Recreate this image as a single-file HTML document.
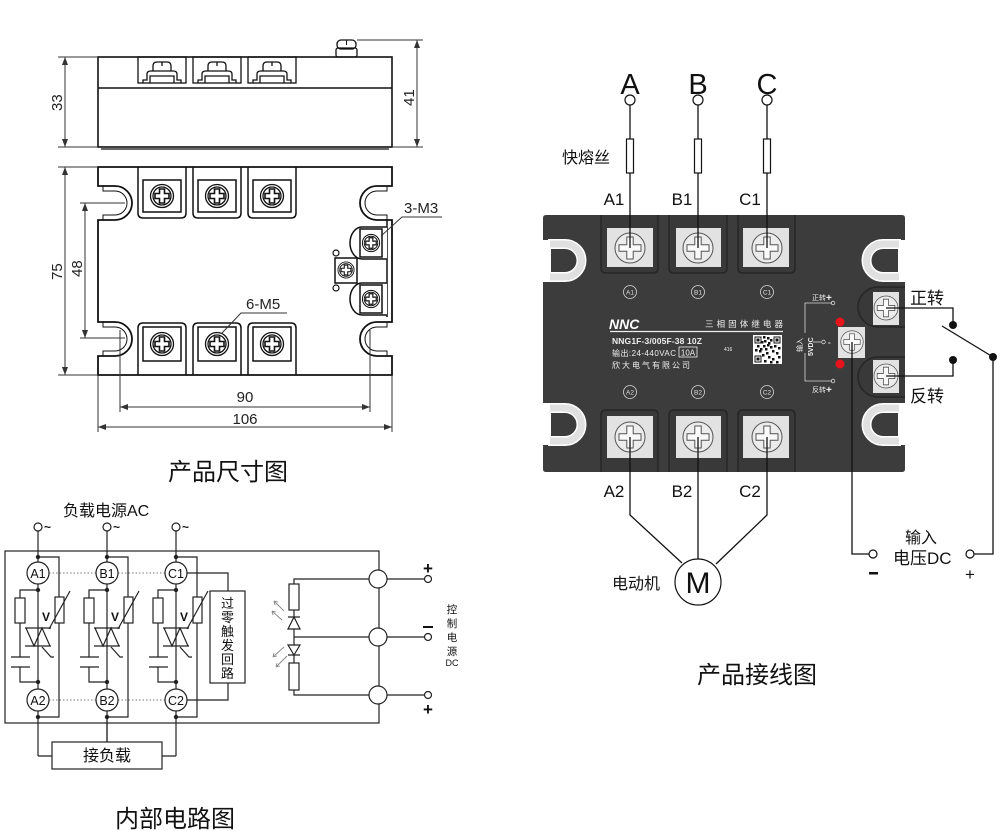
<!DOCTYPE html>
<html><head><meta charset="utf-8"><style>
html,body{margin:0;padding:0;background:#fff;}
svg{display:block;}
text{font-family:"Liberation Sans","Noto Sans CJK SC",sans-serif;}
</style></head><body>
<svg width="1000" height="831" viewBox="0 0 1000 831" xmlns="http://www.w3.org/2000/svg">
<defs>
<marker id="ar" viewBox="0 0 8 6" refX="8" refY="3" markerWidth="8" markerHeight="6" markerUnits="userSpaceOnUse" orient="auto-start-reverse"><path d="M0,0 L8,3 L0,6 z" fill="#333"/></marker>
<g id="ls">
<circle r="11.5" fill="#fff" stroke="#111" stroke-width="1.3"/>
<circle r="9" fill="#fff" stroke="#111" stroke-width="1.3"/>
<path d="M-2.5,-7 H2.5 V-2.5 H7 V2.5 H2.5 V7 H-2.5 V2.5 H-7 V-2.5 H-2.5 Z" fill="#fff" stroke="#111" stroke-width="1.6"/>
</g>
<g id="ps">
<circle r="15" fill="#ececec" stroke="#555" stroke-width="1"/>
<path d="M-3.2,-11 H3.2 V-3.2 H11 V3.2 H3.2 V11 H-3.2 V3.2 H-11 V-3.2 H-3.2 Z" fill="#fafafa" stroke="#555" stroke-width="1"/>
</g>
<g id="clamp" fill="none" stroke="#111" stroke-width="1.3">
<path d="M-19,25 V22 H-15 V16 Q-15,13 -11,13 H11 Q15,13 15,16 V22 H19 V25"/>
<path d="M-12,25 V18 H12 V25"/>
<path d="M-9,13 V8 Q-9,4 -5,4 H5 Q9,4 9,8 V13"/>
<path d="M0,4 V8"/>
</g>
</defs>

<!-- ================= DIMENSION DRAWING ================= -->
<g fill="none" stroke="#111" stroke-width="1.6">
  <rect x="98" y="57" width="294" height="90" fill="#fff"/>
  <line x1="98" y1="88" x2="392" y2="88"/>
  <line x1="101" y1="149" x2="389" y2="149" stroke-width="1.2"/>
  <rect x="138" y="57" width="48" height="26" stroke-width="1.3"/>
  <rect x="193" y="57" width="48" height="26" stroke-width="1.3"/>
  <rect x="248" y="57" width="48" height="26" stroke-width="1.3"/>
  <rect x="337" y="40" width="19" height="9" rx="4" stroke-width="1.3"/>
  <rect x="336" y="48" width="21" height="9" rx="2" stroke-width="1.3"/>
  <line x1="346.5" y1="40" x2="346.5" y2="45" stroke-width="1"/>
</g>
<use href="#clamp" transform="translate(162,58)"/>
<use href="#clamp" transform="translate(217,58)"/>
<use href="#clamp" transform="translate(272,58)"/>

<!-- top view -->
<path d="M98,167 H392 V186 H377 A17,17 0 0 0 377,220 H392 V322 H377 A17,17 0 0 0 377,356 H392 V375 H98 V356 H115 A17,17 0 0 0 115,322 H98 V220 H115 A17,17 0 0 0 115,186 H98 Z" fill="#fff" stroke="#111" stroke-width="1.8"/>
<g fill="none" stroke="#111" stroke-width="1">
  <path d="M103,186 V191 H115 A12,12 0 0 1 115,215 H103 V220"/>
  <path d="M103,322 V327 H115 A12,12 0 0 1 115,351 H103 V356"/>
  <path d="M387,186 V191 H377 A12,12 0 0 0 377,215 H387 V220"/>
  <path d="M387,322 V327 H377 A12,12 0 0 0 377,351 H387 V356"/>
</g>
<g fill="none" stroke="#111" stroke-width="1.5">
  <path d="M138,167 V213 Q138,218 143,218 H181 Q186,218 186,213 V167"/>
  <path d="M193,167 V213 Q193,218 198,218 H236 Q241,218 241,213 V167"/>
  <path d="M248,167 V213 Q248,218 253,218 H291 Q296,218 296,213 V167"/>
  <rect x="143" y="180" width="38" height="32"/>
  <rect x="198" y="180" width="38" height="32"/>
  <rect x="253" y="180" width="38" height="32"/>
  <path d="M138,375 V328 Q138,323 143,323 H181 Q186,323 186,328 V375"/>
  <path d="M193,375 V328 Q193,323 198,323 H236 Q241,323 241,328 V375"/>
  <path d="M248,375 V328 Q248,323 253,323 H291 Q296,323 296,328 V375"/>
  <rect x="143" y="327" width="38" height="34"/>
  <rect x="198" y="327" width="38" height="34"/>
  <rect x="253" y="327" width="38" height="34"/>
  <path d="M387,220 V317"/>
  <path d="M387,227 H362 A12,16 0 0 0 362,259 H387" fill="#fff"/>
  <path d="M387,283 H362 A12,16 0 0 0 362,315 H387" fill="#fff"/>
  <rect x="360" y="229" width="22" height="28" fill="#fff"/>
  <rect x="360" y="285" width="22" height="28" fill="#fff"/>
  <rect x="335" y="258" width="22" height="25" fill="#fff"/>
  <circle cx="336" cy="253" r="3" fill="#fff" stroke-width="1.2"/>
  <circle cx="336" cy="288" r="3" fill="#fff" stroke-width="1.2"/>
</g>
<use href="#ls" transform="translate(162,196)"/>
<use href="#ls" transform="translate(217,196)"/>
<use href="#ls" transform="translate(272,196)"/>
<use href="#ls" transform="translate(162,344)"/>
<use href="#ls" transform="translate(217,344)"/>
<use href="#ls" transform="translate(272,344)"/>
<use href="#ls" transform="translate(371,243) scale(0.75)"/>
<use href="#ls" transform="translate(371,299) scale(0.75)"/>
<use href="#ls" transform="translate(346,270) scale(0.7)"/>

<!-- dimensions -->
<g stroke="#333" stroke-width="1" fill="none">
  <line x1="58" y1="57" x2="98" y2="57"/>
  <line x1="58" y1="147" x2="98" y2="147"/>
  <line x1="65" y1="57" x2="65" y2="147" marker-start="url(#ar)" marker-end="url(#ar)"/>
  <line x1="357" y1="40" x2="423" y2="40"/>
  <line x1="392" y1="147" x2="423" y2="147"/>
  <line x1="417" y1="40" x2="417" y2="147" marker-start="url(#ar)" marker-end="url(#ar)"/>
  <line x1="58" y1="167" x2="98" y2="167"/>
  <line x1="58" y1="375" x2="98" y2="375"/>
  <line x1="65" y1="167" x2="65" y2="375" marker-start="url(#ar)" marker-end="url(#ar)"/>
  <line x1="80" y1="203" x2="125" y2="203"/>
  <line x1="80" y1="338" x2="125" y2="338"/>
  <line x1="85" y1="203" x2="85" y2="338" marker-start="url(#ar)" marker-end="url(#ar)"/>
  <line x1="120" y1="330" x2="120" y2="412"/>
  <line x1="370" y1="330" x2="370" y2="412"/>
  <line x1="120" y1="407" x2="370" y2="407" marker-start="url(#ar)" marker-end="url(#ar)"/>
  <line x1="98" y1="375" x2="98" y2="432"/>
  <line x1="392" y1="375" x2="392" y2="432"/>
  <line x1="98" y1="427" x2="392" y2="427" marker-start="url(#ar)" marker-end="url(#ar)"/>
  <path d="M442,217 H402 L381,236"/>
  <path d="M287,313 H241 L222,333"/>
</g>
<g font-size="15" fill="#222">
  <text transform="translate(62,111) rotate(-90)">33</text>
  <text transform="translate(414,106) rotate(-90)">41</text>
  <text transform="translate(62,280) rotate(-90)">75</text>
  <text transform="translate(82,277) rotate(-90)">48</text>
  <text x="245" y="402" text-anchor="middle">90</text>
  <text x="245" y="424" text-anchor="middle">106</text>
  <text x="404" y="213">3-M3</text>
  <text x="246" y="309">6-M5</text>
</g>
<text x="168" y="480" font-size="24" fill="#111" font-family="Noto Sans CJK SC, sans-serif">产品尺寸图</text>

<!-- ================= PRODUCT WIRING ================= -->
<path d="M546,215 H902 Q905,215 905,218 V240 H898 V282 H905 V403 H898 V445 H905 V469 Q905,472 902,472 H546 Q543,472 543,469 V445 H551 V403 H543 V282 H551 V240 H543 V218 Q543,215 546,215 Z" fill="#3c3c3c"/>
<g fill="none" stroke-linecap="butt">
  <g stroke="#fff" stroke-width="10">
    <path d="M548,244 H565 A16.5,16.5 0 0 1 565,277 H548"/>
    <path d="M548,408 H565 A16.5,16.5 0 0 1 565,441 H548"/>
    <path d="M901,244 H883 A16.5,16.5 0 0 0 883,277 H901"/>
    <path d="M901,408 H883 A16.5,16.5 0 0 0 883,441 H901"/>
  </g>
  <g stroke="#e0e0e0" stroke-width="7">
    <path d="M550,244 H565 A16.5,16.5 0 0 1 565,277 H550"/>
    <path d="M550,408 H565 A16.5,16.5 0 0 1 565,441 H550"/>
    <path d="M899,244 H883 A16.5,16.5 0 0 0 883,277 H899"/>
    <path d="M899,408 H883 A16.5,16.5 0 0 0 883,441 H899"/>
  </g>
</g>
<g fill="#393939" stroke="#262626" stroke-width="1.5">
  <path d="M601,215 V268 Q601,273 606,273 H653 Q658,273 658,268 V215"/>
  <path d="M669,215 V268 Q669,273 674,273 H722 Q727,273 727,268 V215"/>
  <path d="M738,215 V268 Q738,273 743,273 H790 Q795,273 795,268 V215"/>
  <path d="M601,472 V415 Q601,410 606,410 H653 Q658,410 658,415 V472"/>
  <path d="M669,472 V415 Q669,410 674,410 H722 Q727,410 727,415 V472"/>
  <path d="M738,472 V415 Q738,410 743,410 H790 Q795,410 795,415 V472"/>
  <path d="M905,287 H878 A20,20 0 0 0 878,327 H905"/>
  <path d="M905,357 H878 A20,20 0 0 0 878,397 H905"/>
</g>
<g fill="#e2e2e2">
  <rect x="607" y="228" width="46" height="39"/>
  <rect x="676" y="228" width="45" height="39"/>
  <rect x="743" y="228" width="46" height="39"/>
  <rect x="607" y="416" width="46" height="42"/>
  <rect x="676" y="416" width="45" height="42"/>
  <rect x="743" y="416" width="46" height="42"/>
  <rect x="873" y="292" width="26" height="33"/>
  <rect x="873" y="360" width="26" height="33"/>
  <rect x="838" y="327" width="27" height="31"/>
</g>
<use href="#ps" transform="translate(630,248)"/>
<use href="#ps" transform="translate(698,248)"/>
<use href="#ps" transform="translate(767,248)"/>
<use href="#ps" transform="translate(630,437)"/>
<use href="#ps" transform="translate(698,437)"/>
<use href="#ps" transform="translate(767,437)"/>
<use href="#ps" transform="translate(886,308) scale(0.8)"/>
<use href="#ps" transform="translate(886,376) scale(0.8)"/>
<use href="#ps" transform="translate(852,342) scale(0.75)"/>
<circle cx="840" cy="322" r="4.5" fill="#e8141b"/>
<circle cx="840" cy="364" r="4.5" fill="#e8141b"/>

<g fill="none" stroke="#d8d8d8" stroke-width="0.8">
  <circle cx="630" cy="292" r="6.5"/><circle cx="698" cy="292" r="6.5"/><circle cx="767" cy="292" r="6.5"/>
  <circle cx="630" cy="392" r="6.5"/><circle cx="698" cy="392" r="6.5"/><circle cx="767" cy="392" r="6.5"/>
  <path d="M832,303 H805 V333 M805,353 V381 H832"/>
  <path d="M813,342 H821"/>
  <circle cx="833" cy="303" r="1.8"/><circle cx="833" cy="381" r="1.8"/><circle cx="823.5" cy="342" r="1.8"/>
</g>
<g fill="#e0e0e0" font-size="6.5" text-anchor="middle">
  <text x="630" y="294.5">A1</text><text x="698" y="294.5">B1</text><text x="767" y="294.5">C1</text>
  <text x="630" y="394.5">A2</text><text x="698" y="394.5">B2</text><text x="767" y="394.5">C2</text>
</g>
<text x="609" y="329" font-size="14" font-weight="bold" font-style="italic" fill="#fff">NNC</text>
<line x1="610" y1="331.5" x2="783" y2="331.5" stroke="#eee" stroke-width="1.3"/>
<g fill="#eee">
  <text x="705" y="327" font-size="8.5" textLength="78">三相固体继电器</text>
  <text x="612" y="344" font-size="8.5" font-weight="bold" textLength="90">NNG1F-3/005F-38  10Z</text>
  <text x="612" y="356" font-size="8" textLength="64">输出:24-440VAC</text>
  <text x="688" y="355.5" font-size="8" text-anchor="middle">10A</text>
  <text x="612" y="368" font-size="8" textLength="78">欣大电气有限公司</text>
  <text x="724" y="351" font-size="5">416</text>
  <text x="812" y="300" font-size="7">正转</text>
  <text x="826" y="301" font-size="10" font-weight="bold">+</text>
  <text x="812" y="392" font-size="7">反转</text>
  <text x="826" y="393" font-size="10" font-weight="bold">+</text>
  <text x="828" y="345" font-size="8" font-weight="bold">-</text>
  <text transform="translate(802,352) rotate(-90)" font-size="7">输入</text>
  <text transform="translate(813,356) rotate(-90)" font-size="7" font-weight="bold">5VDC</text>
</g>
<rect x="679" y="347" width="18" height="10" fill="none" stroke="#eee" stroke-width="0.8"/>
<rect x="753" y="335" width="29" height="29" fill="#fff"/>
<g fill="#111">
  <rect x="754.5" y="336.5" width="7" height="7"/><rect x="773.5" y="336.5" width="7" height="7"/><rect x="754.5" y="355.5" width="7" height="7"/>
</g>
<g fill="#fff"><rect x="755.5" y="337.5" width="5" height="5"/><rect x="774.5" y="337.5" width="5" height="5"/><rect x="755.5" y="356.5" width="5" height="5"/></g>
<g fill="#111">
  <rect x="756.5" y="338.5" width="3" height="3"/><rect x="775.5" y="338.5" width="3" height="3"/><rect x="756.5" y="357.5" width="3" height="3"/>
  <rect x="763" y="336" width="2.5" height="2.5"/><rect x="767" y="337" width="2.5" height="2.5"/><rect x="770" y="339" width="2.5" height="2.5"/>
  <rect x="764" y="340" width="2.5" height="2.5"/><rect x="768" y="342" width="2.5" height="2.5"/><rect x="763" y="345" width="2.5" height="2.5"/>
  <rect x="757" y="345" width="2.5" height="2.5"/><rect x="760" y="348" width="2.5" height="2.5"/><rect x="765" y="348" width="2.5" height="2.5"/>
  <rect x="770" y="346" width="2.5" height="2.5"/><rect x="774" y="345" width="2.5" height="2.5"/><rect x="778" y="347" width="2.5" height="2.5"/>
  <rect x="772" y="350" width="2.5" height="2.5"/><rect x="776" y="352" width="2.5" height="2.5"/><rect x="766" y="352" width="2.5" height="2.5"/>
  <rect x="762" y="354" width="2.5" height="2.5"/><rect x="768" y="356" width="2.5" height="2.5"/><rect x="772" y="358" width="2.5" height="2.5"/>
  <rect x="778" y="356" width="2.5" height="2.5"/><rect x="764" y="360" width="2.5" height="2.5"/><rect x="770" y="361" width="2.5" height="2.5"/>
  <rect x="776" y="361" width="2.5" height="2.5"/><rect x="759" y="350" width="2.5" height="2.5"/><rect x="755" y="349" width="2.5" height="2.5"/>
  <rect x="767" y="344" width="2.5" height="2.5"/><rect x="761" y="341" width="2.5" height="2.5"/>
</g>

<g stroke="#111" stroke-width="1.3" fill="none">
  <line x1="630" y1="105" x2="630" y2="248"/>
  <line x1="698" y1="105" x2="698" y2="248"/>
  <line x1="767" y1="105" x2="767" y2="248"/>
  <path d="M630,437 V515 L682,563"/>
  <path d="M698,437 V559"/>
  <path d="M767,437 V515 L716,564"/>
  <path d="M886,308 H953 V325"/>
  <path d="M886,376 H953 V360"/>
  <path d="M942,326 L993,357"/>
  <path d="M993,357 V554 H974"/>
  <path d="M852,342 V554 H869"/>
</g>
<g fill="#fff" stroke="#111" stroke-width="1.2">
  <circle cx="630" cy="100" r="5"/><circle cx="698" cy="100" r="5"/><circle cx="767" cy="100" r="5"/>
  <rect x="626.5" y="139" width="7" height="34"/><rect x="694.5" y="139" width="7" height="34"/><rect x="763.5" y="139" width="7" height="34"/>
  <circle cx="698" cy="582" r="23"/>
  <circle cx="873" cy="554" r="4"/><circle cx="970" cy="554" r="4"/>
</g>
<g fill="#111">
  <circle cx="953" cy="325" r="4"/><circle cx="953" cy="360" r="4"/><circle cx="993" cy="357" r="4"/>
</g>
<g fill="#111">
  <text x="630" y="94" font-size="29" text-anchor="middle">A</text>
  <text x="698" y="94" font-size="29" text-anchor="middle">B</text>
  <text x="767" y="94" font-size="29" text-anchor="middle">C</text>
  <text x="562" y="163" font-size="16">快熔丝</text>
  <text x="614" y="205" font-size="17" text-anchor="middle">A1</text>
  <text x="682" y="205" font-size="17" text-anchor="middle">B1</text>
  <text x="750" y="205" font-size="17" text-anchor="middle">C1</text>
  <text x="614" y="497" font-size="17" text-anchor="middle">A2</text>
  <text x="682" y="497" font-size="17" text-anchor="middle">B2</text>
  <text x="750" y="497" font-size="17" text-anchor="middle">C2</text>
  <text x="698" y="593" font-size="30" text-anchor="middle">M</text>
  <text x="612" y="589" font-size="16">电动机</text>
  <text x="910" y="304" font-size="17">正转</text>
  <text x="910" y="402" font-size="17">反转</text>
  <text x="905" y="543" font-size="16">输入</text>
  <text x="893" y="564" font-size="17">电压DC</text>
  <rect x="869" y="572" width="9" height="2.5"/>
  <text x="970" y="580" font-size="17" text-anchor="middle">+</text>
</g>
<text x="697" y="683" font-size="24" fill="#111" font-family="Noto Sans CJK SC, sans-serif">产品接线图</text>

<!-- ================= INTERNAL CIRCUIT ================= -->
<text x="63" y="516" font-size="16" fill="#111">负载电源AC</text>
<g stroke="#222" stroke-width="1.2" fill="none">
  <rect x="5" y="551" width="374" height="172"/>
  <g id="ph">
    <path d="M38,531 V562"/>
    <path d="M38,557 H59 V717 H38"/>
    <path d="M38,584 V689"/>
    <path d="M38,711 V756"/>
    <path d="M38,590 H20 V598 M20,623 V657 M20,667 V682 H38"/>
    <rect x="15" y="598" width="10" height="25" fill="#fff"/>
    <path d="M11,657 H30 M11,667 H30"/>
    <rect x="55" y="597" width="9" height="26" fill="#fff"/>
    <path d="M49,629 L70,591"/>
    <path d="M25,628 H51 M25,646 H51"/>
    <path d="M26,628 L34,646 L42,628 M34,646 L42,628 L50,646" fill="none"/>
    <path d="M42,647 L51,657 H54"/>
  </g>
  <use href="#ph" transform="translate(69,0)"/>
  <use href="#ph" transform="translate(138,0)"/>
  <path d="M38,756 H52 M176,756 H162 M107,717 V742" />
  <rect x="52" y="742" width="110" height="27" fill="#fff"/>
  <path d="M187,573 H228 V591 M228,683 V700 H187"/>
  <rect x="210" y="591" width="35" height="92" fill="#fff"/>
  <path d="M387,579 H425 M387,637 H425 M387,695 H425"/>
  <path d="M369,579 H294 V584 M294,610 V617 M294,629 V645 M294,655 V663 M294,690 V695 H369 M294,637 H369"/>
  <rect x="289" y="584" width="10" height="26" fill="#fff"/>
  <rect x="289" y="663" width="10" height="27" fill="#fff"/>
  <path d="M288,629 H300 L294,617 Z M288,617 H300"/>
  <path d="M288,645 H300 L294,655 Z M288,655 H300"/>
</g>
<g stroke="#888" stroke-width="0.9" fill="none">
  <path d="M284,611 L274,601 M274,601 L278,602 M274,601 L275,605"/>
  <path d="M282,620 L272,611 M272,611 L276,612 M272,611 L273,615"/>
  <path d="M284,647 L273,657 M273,657 L274,653 M273,657 L277,656"/>
  <path d="M287,656 L276,667 M276,667 L277,663 M276,667 L280,666"/>
</g>
<g fill="#222">
  <circle cx="38" cy="557" r="2.2"/><circle cx="38" cy="590" r="2.2"/><circle cx="38" cy="682" r="2.2"/><circle cx="38" cy="717" r="2.2"/>
  <circle cx="107" cy="557" r="2.2"/><circle cx="107" cy="590" r="2.2"/><circle cx="107" cy="682" r="2.2"/><circle cx="107" cy="717" r="2.2"/>
  <circle cx="176" cy="557" r="2.2"/><circle cx="176" cy="590" r="2.2"/><circle cx="176" cy="682" r="2.2"/><circle cx="176" cy="717" r="2.2"/>
</g>
<g stroke="#777" stroke-width="1" stroke-dasharray="1.5 2">
  <line x1="49" y1="573" x2="96" y2="573"/><line x1="118" y1="573" x2="165" y2="573"/>
  <line x1="49" y1="700" x2="96" y2="700"/><line x1="118" y1="700" x2="165" y2="700"/>
</g>
<g fill="#fff" stroke="#222" stroke-width="1.2">
  <circle cx="38" cy="527" r="4"/><circle cx="107" cy="527" r="4"/><circle cx="176" cy="527" r="4"/>
  <circle cx="38" cy="573" r="11"/><circle cx="107" cy="573" r="11"/><circle cx="176" cy="573" r="11"/>
  <circle cx="38" cy="700" r="11"/><circle cx="107" cy="700" r="11"/><circle cx="176" cy="700" r="11"/>
  <circle cx="378" cy="579" r="9"/><circle cx="378" cy="637" r="9"/><circle cx="378" cy="695" r="9"/>
  <circle cx="428" cy="579" r="3.5"/><circle cx="428" cy="637" r="3.5"/><circle cx="428" cy="695" r="3.5"/>
</g>
<g fill="#111">
  <text x="44" y="531" font-size="12" font-weight="bold">~</text>
  <text x="113" y="531" font-size="12" font-weight="bold">~</text>
  <text x="182" y="531" font-size="12" font-weight="bold">~</text>
  <g font-size="12.5" text-anchor="middle">
    <text x="38" y="578">A1</text><text x="107" y="578">B1</text><text x="176" y="578">C1</text>
    <text x="38" y="705">A2</text><text x="107" y="705">B2</text><text x="176" y="705">C2</text>
  </g>
  <g font-size="12" font-weight="bold">
    <text x="42" y="621">V</text><text x="111" y="621">V</text><text x="180" y="621">V</text>
  </g>
  <g font-size="13" text-anchor="middle">
    <text x="227.5" y="608">过</text><text x="227.5" y="622">零</text><text x="227.5" y="636">触</text>
    <text x="227.5" y="650">发</text><text x="227.5" y="664">回</text><text x="227.5" y="678">路</text>
  </g>
  <text x="107" y="761" font-size="16" text-anchor="middle">接负载</text>
  <text x="428" y="574" font-size="17" font-weight="bold" text-anchor="middle">+</text>
  <rect x="423" y="626" width="10" height="2"/>
  <text x="428" y="715" font-size="17" font-weight="bold" text-anchor="middle">+</text>
  <g font-size="10.5" text-anchor="middle">
    <text x="452" y="613">控</text><text x="452" y="627">制</text><text x="452" y="641">电</text><text x="452" y="655">源</text>
    <text x="452" y="666" font-size="9">DC</text>
  </g>
</g>
<text x="115" y="827" font-size="24" fill="#111" font-family="Noto Sans CJK SC, sans-serif">内部电路图</text>
</svg>
</body></html>
